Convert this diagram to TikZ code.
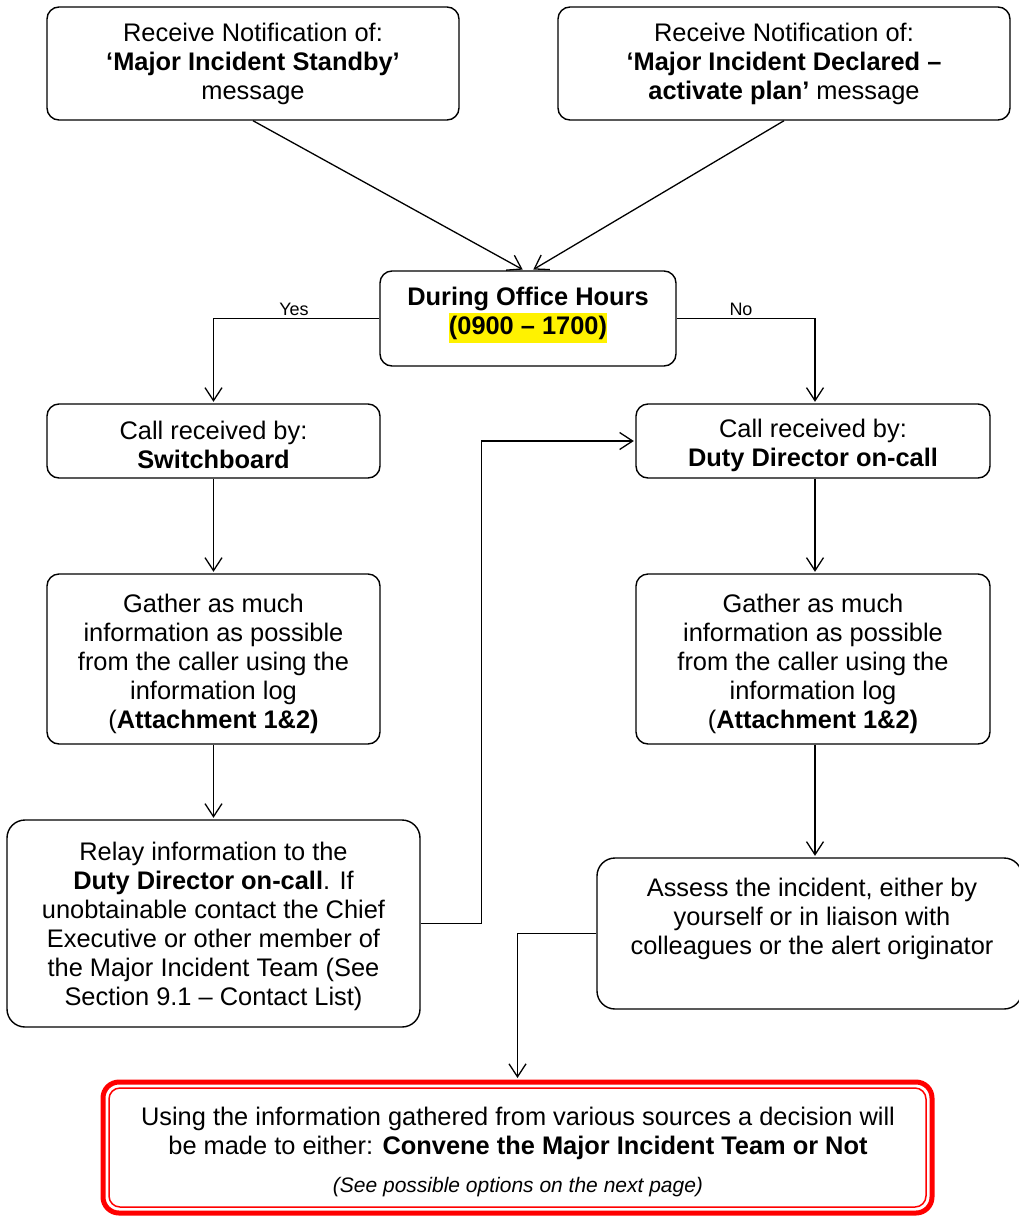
\documentclass[tikz,border=0pt]{standalone}
\usepackage{fontspec}
\setmainfont{Liberation Sans}
\usetikzlibrary{arrows.meta,calc}
\begin{document}
\begin{tikzpicture}[x=1pt,y=-1pt,
  flowbox/.style={draw,line width=1.4pt,rounded corners=12pt,inner sep=0pt},
  txt/.style={align=center,inner sep=0pt,font=\fontsize{25.4}{29}\selectfont},
  small/.style={inner sep=0pt,font=\fontsize{18}{20}\selectfont},
  link/.style={line width=1.3pt,shorten >=1.5pt,
    -{Straight Barb[length=13pt,width=17pt,line width=1.3pt]}},
  plain/.style={line width=1.3pt}]
\useasboundingbox (0,0) rectangle (1019,1216);

% top notification boxes
\node[flowbox,minimum width=412pt,minimum height=113pt] (A) at (253,63.5) {};
\node[txt] (At) at (253,64) {Receive Notification of:\\\textbf{‘Major Incident Standby’}\\message};
\node[flowbox,minimum width=452pt,minimum height=113pt] (B) at (784,63.5) {};
\node[txt] (Bt) at (784,64) {Receive Notification of:\\\textbf{‘Major Incident Declared –}\\\textbf{activate plan’} message};

% decision on office hours
\node[flowbox,minimum width=296pt,minimum height=95pt] (C) at (528,318.5) {};
\node[txt] (Ct) at (528,315) {\textbf{During Office Hours}\\{\setlength{\fboxsep}{0pt}\colorbox{yellow}{\rule[-8pt]{0pt}{30pt}\textbf{(0900 – 1700)}}}};

% call received
\node[flowbox,minimum width=333pt,minimum height=74pt] (D) at (213.5,441) {};
\node[txt] (Dt) at (213.5,445) {Call received by:\\\textbf{Switchboard}};
\node[flowbox,minimum width=354pt,minimum height=74pt] (E) at (813,441) {};
\node[txt] (Et) at (813,445) {Call received by:\\\textbf{Duty Director on-call}};

% gather information
\node[flowbox,minimum width=333pt,minimum height=170pt] (F) at (213.5,659) {};
\node[txt] (Ft) at (213.5,664) {Gather as much\\information as possible\\from the caller using the\\information log\\(\textbf{Attachment 1\&2)}};
\node[flowbox,minimum width=354pt,minimum height=170pt] (G) at (813,659) {};
\node[txt] (Gt) at (813,664) {Gather as much\\information as possible\\from the caller using the\\information log\\(\textbf{Attachment 1\&2)}};

% relay and assess
\node[flowbox,minimum width=413pt,minimum height=207pt,rounded corners=18pt] (H) at (213.5,923.5) {};
\node[txt] (Ht) at (213.5,926.5) {Relay information to the\\\textbf{Duty Director on-call}. If\\unobtainable contact the Chief\\Executive or other member of\\the Major Incident Team (See\\Section 9.1 – Contact List)};
\node[flowbox,minimum width=425pt,minimum height=151pt,rounded corners=18pt] (I) at (809.5,933.5) {};
\node[txt] (It) at (812,919) {Assess the incident, either by\\yourself or in liaison with\\colleagues or the alert originator};

% final decision box with double red border
\node[draw=red,line width=5pt,rounded corners=16pt,inner sep=0pt,minimum width=829pt,minimum height=131pt] (J) at (517.5,1147.5) {};
\node[draw=red,line width=1.5pt,rounded corners=11pt,inner sep=0pt,minimum width=817pt,minimum height=119pt] (Jin) at (517.5,1147.5) {};
\node[txt] (Jt) at (518,1133) {Using the information gathered from various sources a decision will\\be made to either: \textbf{Convene the Major Incident Team or Not}};
\node[inner sep=0pt,font=\fontsize{21}{24}\selectfont\itshape] (Jn) at (518,1187) {(See possible options on the next page)};

% connectors
\draw[link] (A.south) -- ($(C.north)+(-4,0)$);
\draw[link] (B.south) -- ($(C.north)+(4,0)$);
\draw[link] (C.west) -| (D.north);
\draw[link] (C.east) -| ($(E.north)+(2,0)$);
\node[small] (yes) at (294,309) {Yes};
\node[small] (no) at (741,309) {No};
\draw[link] (D.south) -- (F.north);
\draw[link] ($(E.south)+(2,0)$) -- ($(G.north)+(2,0)$);
\draw[link] (F.south) -- (H.north -| F.south);
\draw[link] ($(G.south)+(2,0)$) -- ($(I.north)+(5.5,0)$);
\draw[link] (H.east) -- ++(61,0) |- (E.west);
\draw[link] (I.west) -| (J.north);
\end{tikzpicture}
\end{document}
